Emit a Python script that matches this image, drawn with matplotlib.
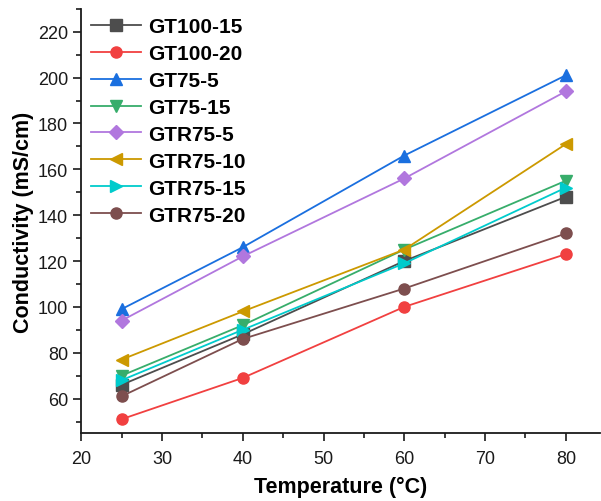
import matplotlib
matplotlib.use("Agg")
import matplotlib.pyplot as plt
from matplotlib.ticker import MultipleLocator

plt.rcParams['font.family'] = ['Liberation Sans', 'DejaVu Sans']

# temperature (C)
temps = [25, 40, 60, 80]

# conductivity (mS/cm) per sample
labels = ["GT100-15", "GT100-20", "GT75-5", "GT75-15",
          "GTR75-5", "GTR75-10", "GTR75-15", "GTR75-20"]
gt100_15 = [66, 88, 120, 148]
gt100_20 = [51, 69, 100, 123]
gt75_5 = [99, 126, 166, 201]
gt75_15 = [70, 92, 125, 155]
gtr75_5 = [94, 122, 156, 194]
gtr75_10 = [77, 98, 125, 171]
gtr75_15 = [68, 90, 119, 152]
gtr75_20 = [61, 86, 108, 132]

series = [gt100_15, gt100_20, gt75_5, gt75_15, gtr75_5, gtr75_10, gtr75_15, gtr75_20]
colors = ["#4d4d4d", "#f14040", "#1a6fdf", "#37ad6b", "#b177de", "#cc9900", "#00cbcc", "#7d4e4e"]
markers = ["s", "o", "^", "v", "D", "<", ">", "o"]

fig = plt.figure(figsize=(6.01, 5.02), dpi=100)
ax = fig.add_axes([0.135, 0.1355, 0.863, 0.845])

for vals, lab, c, m in zip(series, labels, colors, markers):
    ms = 7 if m == "D" else 8
    ax.plot(temps, vals, color=c, marker=m, markersize=ms, linewidth=1.3, label=lab)

ax.set_xlim(20, 84.2)
ax.set_ylim(45, 230)
ax.xaxis.set_major_locator(MultipleLocator(10))
ax.xaxis.set_minor_locator(MultipleLocator(5))
ax.yaxis.set_major_locator(MultipleLocator(20))
ax.yaxis.set_minor_locator(MultipleLocator(10))
ax.tick_params(which="major", direction="out", length=6, width=1.2, labelsize=13, colors="#1a1a1a")
ax.tick_params(which="minor", direction="out", length=3.5, width=1.2, colors="#1a1a1a")
ax.tick_params(axis="x", pad=6)

for side in ["top", "right"]:
    ax.spines[side].set_visible(False)
for side in ["left", "bottom"]:
    ax.spines[side].set_linewidth(1.3)
    ax.spines[side].set_color("#1a1a1a")

ax.set_xlabel("Temperature (°C)", fontsize=15.5, fontweight="bold", labelpad=7)
ax.set_ylabel("Conductivity (mS/cm)", fontsize=15.5, fontweight="bold", labelpad=3)

ax.legend(loc="upper left", frameon=False, prop={"weight": "bold", "size": 15},
          handlelength=2.4, handletextpad=0.35, labelspacing=0.38,
          borderaxespad=0.0, bbox_to_anchor=(0.003, 1.0))

fig.savefig("out.png", dpi=100)
